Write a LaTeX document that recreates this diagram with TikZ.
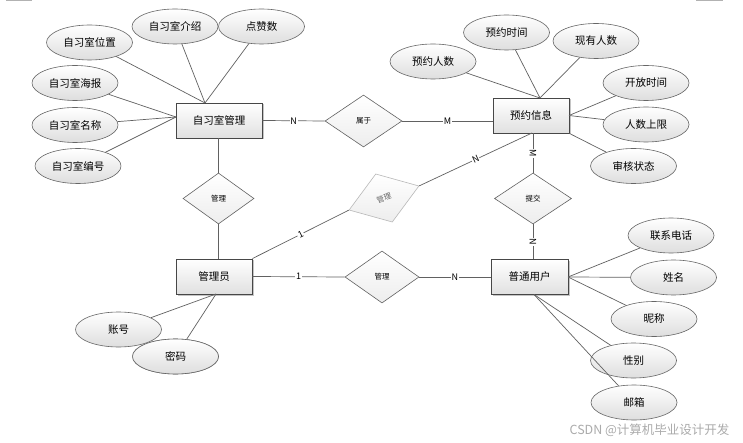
\documentclass[tikz,border=0pt]{standalone}
\usepackage{fontspec}
\newfontfamily\cjk{Noto Sans CJK SC}
\usetikzlibrary{shapes.geometric,shadows}
\tikzset{
  conn/.style={draw=black!62, line width=0.7pt},
  attr/.style={ellipse, draw=black!60, line width=0.6pt, top color=white, bottom color=black!13,
    minimum width=86pt, minimum height=35pt, inner sep=0pt, font=\cjk\fontsize{10.5}{12}\selectfont},
  ent/.style={rectangle, draw=black!72, line width=0.9pt, top color=white, bottom color=black!12,
    minimum height=35pt, inner sep=0pt, font=\cjk\fontsize{10.5}{12}\selectfont,
    drop shadow={shadow xshift=1.5pt, shadow yshift=-1.5pt, fill=black!45, opacity=0.5}},
  rel/.style={diamond, draw=black!62, line width=0.6pt, top color=white, bottom color=black!7,
    minimum width=77pt, minimum height=52pt, inner sep=0pt, font=\cjk\fontsize{7.5}{9}\selectfont},
  lbl/.style={fill=white, inner sep=0.8pt, font=\cjk\fontsize{9}{10}\selectfont},
}
\begin{document}
\begin{tikzpicture}[x=1pt,y=-1pt]
\fill[white] (0,0) rectangle (743,443);
\useasboundingbox (0,0) rectangle (743,443);
\fill[black!30] (6,0) rectangle (32,1.5);
\fill[black!30] (696,0) rectangle (723,1.5);

% entities
\node[ent, minimum width=86pt] (zm) at (219,120.5) {自习室管理};
\node[ent, minimum width=76pt] (yy) at (531,115.5) {预约信息};
\node[ent, minimum width=76pt] (gly) at (214,276.5) {管理员};
\node[ent, minimum width=77pt] (pt) at (529.5,277) {普通用户};

% relationships
\node[rel] (d1) at (363.5,121) {属于};
\node[rel, minimum width=71pt, minimum height=51pt] (d2) at (218.5,198.5) {管理};
\node[rel, minimum height=51pt] (d3) at (533,198.5) {提交};
\node[rel, minimum width=74pt] (d4) at (382,277) {管理};
\node[rel, minimum width=74pt, minimum height=51pt, rotate=19, draw=black!28, text=black!60] (d5) at (384,198) {管理};

% attributes of 自习室管理
\node[attr] (a1) at (89.5,42.5) {自习室位置};
\node[attr] (a2) at (175,26.5) {自习室介绍};
\node[attr] (a3) at (261.5,26.5) {点赞数};
\node[attr] (a4) at (75,83) {自习室海报};
\node[attr] (a5) at (75,125) {自习室名称};
\node[attr] (a6) at (78,166) {自习室编号};
% attributes of 预约信息
\node[attr] (b1) at (433,61.5) {预约人数};
\node[attr] (b2) at (506.5,32.5) {预约时间};
\node[attr] (b3) at (596,41) {现有人数};
\node[attr] (b4) at (646,83) {开放时间};
\node[attr] (b5) at (646,124.5) {人数上限};
\node[attr] (b6) at (633.5,166) {审核状态};
% attributes of 普通用户
\node[attr] (c1) at (671,235.5) {联系电话};
\node[attr] (c2) at (673.5,277.5) {姓名};
\node[attr] (c3) at (654,319) {昵称};
\node[attr] (c4) at (633.5,360.5) {性别};
\node[attr] (c5) at (634,402.5) {邮箱};
% attributes of 管理员
\node[attr] (g1) at (118.5,329.5) {账号};
\node[attr] (g2) at (175.5,356.5) {密码};

% attachment points
\coordinate (zt) at (205,103);
\coordinate (zl) at (176,117);
\coordinate (yt) at (540,98);
\coordinate (yr) at (569,115.5);
\coordinate (yb) at (532,133);
\coordinate (pr) at (568,277);
\coordinate (pb) at (534,294.5);
\coordinate (gb) at (216,294);

% attribute connectors
\foreach \a in {a1,a2,a3} \draw[conn] (\a) -- (zt);
\foreach \a in {a4,a5,a6} \draw[conn] (\a) -- (zl);
\foreach \a in {b1,b2,b3} \draw[conn] (\a) -- (yt);
\foreach \a in {b4,b5} \draw[conn] (\a) -- (yr);
\draw[conn] (b6) -- (yy.south east);
\foreach \a in {c1,c2,c3} \draw[conn] (\a) -- (pr);
\foreach \a in {c4,c5} \draw[conn] (\a) -- (pb);
\draw[conn] (g1) -- (gb);
\draw[conn] (g2) -- (gb);
% redraw 密码 on top of 账号
\node[attr] at (175.5,356.5) {密码};

% relationship connectors
\draw[conn] (zm.east) -- node[lbl]{N} (d1.west);
\draw[conn] (d1.east) -- node[lbl]{M} (d1.east -| yy.west);
\draw[conn] (d2.north |- zm.south) -- (d2.north);
\draw[conn] (d2.south) -- (d2.south |- gly.north);
\draw[conn] (gly.north east) -- node[lbl, sloped]{1} (d5.west);
\draw[conn] (d5.east) -- node[lbl, sloped]{N} (yb);
\draw[conn] (d3.north |- yy.south) -- node[lbl, rotate=-90]{M} (d3.north);
\draw[conn] (d3.south) -- node[lbl, rotate=-90]{N} (d3.south |- pt.north);
\draw[conn] (gly.east) -- node[lbl]{1} (d4.west);
\draw[conn] (d4.east) -- node[lbl]{N} (pt.west);

% watermark
\node[text=black!33, font=\cjk\fontsize{12.5}{14}\selectfont, anchor=east] (wm) at (733,430) {CSDN @计算机毕业设计开发};
\end{tikzpicture}
\end{document}
